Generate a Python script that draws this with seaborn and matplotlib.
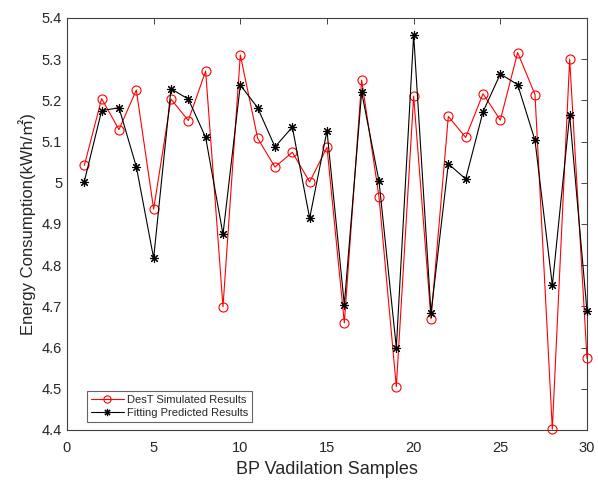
import matplotlib
matplotlib.use("Agg")
import matplotlib.pyplot as plt
import seaborn as sns
import numpy as np

samples = list(range(1, 31))
dest_sim = [5.042, 5.204, 5.129, 5.225, 4.936, 5.203, 5.151, 5.271, 4.699, 5.310,
            5.108, 5.038, 5.074, 5.002, 5.086, 4.660, 5.249, 4.966, 4.505, 5.210,
            4.670, 5.161, 5.110, 5.216, 5.152, 5.316, 5.214, 4.402, 5.300, 4.574]
fit_pred = [5.003, 5.175, 5.182, 5.039, 4.817, 5.228, 5.203, 5.110, 4.875, 5.237,
            5.182, 5.087, 5.135, 4.914, 5.126, 4.704, 5.220, 5.004, 4.600, 5.359,
            4.683, 5.046, 5.009, 5.172, 5.264, 5.238, 5.103, 4.751, 5.164, 4.688]
xticks = [0, 5, 10, 15, 20, 25, 30]
yticks = [4.4, 4.5, 4.6, 4.7, 4.8, 4.9, 5.0, 5.1, 5.2, 5.3, 5.4]
ytick_labels = ["4.4", "4.5", "4.6", "4.7", "4.8", "4.9", "5", "5.1", "5.2", "5.3", "5.4"]

sns.set_style("white")
plt.rcParams['font.family'] = ['Liberation Sans', 'Noto Sans CJK SC', 'DejaVu Sans']

fig = plt.figure(figsize=(5.98, 4.84), dpi=100)
ax = fig.add_axes([0.112, 0.1116, 0.8696, 0.8514])

asterisk = (8, 2, 0)
sns.lineplot(x=samples, y=dest_sim, ax=ax, color='#ff0000', linewidth=0.8,
             marker='o', markersize=6.5, markerfacecolor='none', markeredgecolor='#ff0000',
             markeredgewidth=0.8, label='DesT Simulated Results', clip_on=False, zorder=3)
sns.lineplot(x=samples, y=fit_pred, ax=ax, color='#000000', linewidth=0.8,
             marker=asterisk, markersize=6.5, markerfacecolor='none', markeredgecolor='#000000',
             markeredgewidth=0.8, label='Fitting Predicted Results', clip_on=False, zorder=4)

ax.set_xlim(0, 30)
ax.set_ylim(4.4, 5.4)
ax.set_xticks(xticks)
ax.set_yticks(yticks)
ax.set_yticklabels(ytick_labels)
ax.tick_params(direction='in', length=4, width=0.6, colors='#262626',
               labelsize=10.5, top=True, right=True, labelcolor='#262626')
ax.tick_params(axis='x', pad=8)
for s in ax.spines.values():
    s.set_color('#404040')
    s.set_linewidth(0.8)
    s.set_visible(True)

ax.set_xlabel('BP Vadilation Samples', fontsize=13, color='#262626')
ax.set_ylabel('Energy Consumption(kWh/㎡)', fontsize=12, color='#262626')

leg = ax.legend(loc='lower left', fontsize=8, frameon=True, fancybox=False,
                handlelength=3.0, handletextpad=0.25, borderpad=0.35, labelspacing=0.3,
                borderaxespad=0, bbox_to_anchor=(0.038, 0.019), markerscale=0.8)
leg.get_frame().set_edgecolor('#404040')
leg.get_frame().set_linewidth(0.8)

fig.savefig('out.png', dpi=100)
